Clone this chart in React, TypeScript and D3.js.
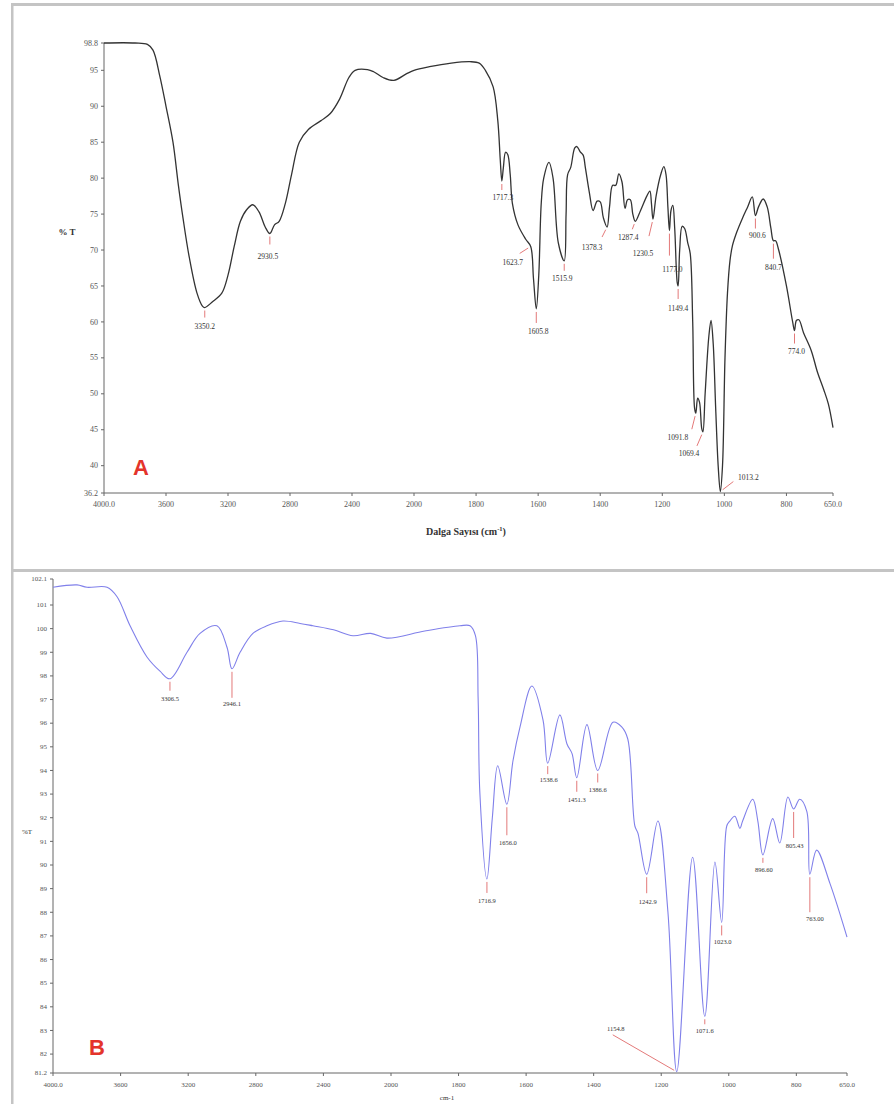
import React from 'react'
import * as d3 from 'd3'

// --- spectrum A (black, %T vs wavenumber) ---
const spectrumA: [number, number][] = [
  [4000, 98.8], [3800, 98.8], [3720, 98.6], [3684, 97.8], [3640, 94.2], [3600, 90.0], [3555, 85.0],
  [3520, 79.0], [3490, 74.4], [3450, 69.0], [3400, 64.0], [3365, 62.2], [3350, 62.0], [3300, 62.8],
  [3240, 64.0], [3200, 66.5], [3160, 70.5], [3120, 74.0], [3080, 75.6], [3040, 76.3], [3000, 75.3],
  [2960, 73.2], [2930, 72.3], [2900, 73.5], [2870, 74.0], [2830, 76.5], [2790, 80.5], [2740, 85.0],
  [2680, 86.8], [2600, 88.0], [2540, 89.0], [2480, 91.0], [2420, 94.0], [2380, 95.0], [2300, 95.1],
  [2260, 94.8], [2200, 94.0], [2130, 93.6], [2050, 94.5], [2000, 95.0], [1950, 95.5], [1880, 96.0],
  [1820, 96.2], [1790, 96.0], [1770, 95.0], [1745, 92.7], [1730, 88.0], [1722, 82.5], [1717, 79.6],
  [1712, 81.5], [1705, 83.6], [1698, 83.3], [1690, 80.5], [1683, 76.5], [1665, 73.5], [1640, 71.5],
  [1624, 70.5], [1615, 66.0], [1606, 61.8], [1598, 66.5], [1590, 76.5], [1582, 80.0], [1565, 82.2],
  [1552, 80.0], [1535, 71.0], [1516, 68.5], [1510, 75.0], [1505, 80.5], [1495, 81.5], [1482, 84.2],
  [1475, 84.4], [1465, 83.7], [1455, 83.2], [1448, 81.5], [1435, 78.0], [1423, 75.5], [1410, 76.8],
  [1400, 76.7], [1390, 74.5], [1378, 73.2], [1370, 76.0], [1360, 79.0], [1350, 79.0], [1340, 80.6],
  [1330, 79.5], [1320, 75.8], [1312, 77.0], [1303, 77.0], [1295, 75.0], [1287, 74.0], [1270, 75.5],
  [1250, 77.5], [1240, 78.2], [1235, 76.5], [1230, 74.3], [1220, 77.5], [1205, 80.5], [1195, 81.6],
  [1188, 80.5], [1182, 76.0], [1177, 72.7], [1172, 75.5], [1166, 76.2], [1160, 73.0], [1152, 65.5],
  [1149, 65.0], [1144, 70.0], [1136, 73.3], [1128, 73.0], [1118, 71.0], [1110, 69.5], [1102, 60.0],
  [1096, 48.0], [1092, 47.3], [1086, 49.4], [1080, 48.8], [1073, 45.2], [1069, 44.7], [1062, 50.0],
  [1050, 58.0], [1043, 60.2], [1036, 57.0], [1028, 48.0], [1020, 40.0], [1013, 36.4], [1006, 40.0],
  [998, 55.0], [990, 64.0], [982, 68.5], [974, 70.6], [960, 72.5], [942, 74.4], [925, 76.0],
  [910, 77.4], [900, 74.8], [890, 76.0], [875, 77.1], [862, 76.0], [850, 73.0], [842, 71.3],
  [835, 71.3], [825, 70.0], [800, 65.0], [780, 60.0], [774, 58.8], [768, 60.2], [760, 60.3],
  [745, 58.5], [720, 56.0], [700, 53.0], [680, 50.6], [665, 48.6], [650, 45.3],
]

const peaksA = [
  { text: '3350.2', wn: 3350, t: 62.0 }, { text: '2930.5', wn: 2930, t: 72.3 },
  { text: '1717.3', wn: 1717, t: 79.6 }, { text: '1623.7', wn: 1624, t: 70.5 },
  { text: '1605.8', wn: 1606, t: 61.8 }, { text: '1515.9', wn: 1516, t: 68.5 },
  { text: '1378.3', wn: 1378, t: 73.2 }, { text: '1287.4', wn: 1287, t: 74.0 },
  { text: '1230.5', wn: 1230, t: 74.3 }, { text: '1177.0', wn: 1177, t: 72.7 },
  { text: '1149.4', wn: 1149, t: 65.0 }, { text: '1091.8', wn: 1092, t: 47.3 },
  { text: '1069.4', wn: 1069, t: 44.7 }, { text: '1013.2', wn: 1013, t: 36.4 },
  { text: '900.6', wn: 900, t: 74.8 }, { text: '840.7', wn: 842, t: 71.3 },
  { text: '774.0', wn: 774, t: 58.8 },
]

// leader layout per label: [lineEndX, lineEndY, textX, textY] relative to the peak
const leadersA: Record<string, number[]> = {
  '3350.2': [0, 10, 0, 19], '2930.5': [0, 11, -2, 23], '1717.3': [0, 9, 1, 16],
  '1623.7': [-11, 7, -18, 16], '1605.8': [0, 14, 2, 22], '1515.9': [0, 10, -2, 18],
  '1378.3': [-5, 10, -15, 20], '1287.4': [-3, 8, -7, 16], '1230.5': [-4, 17, -10, 34],
  '1177.0': [0, 25, 3, 39], '1149.4': [0, 13, 0, 22], '1091.8': [-4, 16, -18, 24],
  '1069.4': [-6, 14, -14, 21], '1013.2': [13, -10, 28, -14], '900.6': [0, 13, 2, 20],
  '840.7': [0, 18, 0, 27], '774.0': [0, 13, 2, 21],
}

const yTicksA = [98.8, 95, 90, 85, 80, 75, 70, 65, 60, 55, 50, 45, 40, 36.2]
const yTickLabelsA = ['98.8', '95', '90', '85', '80', '75', '70', '65', '60', '55', '50', '45', '40', '36.2']

// --- spectrum B (blue) ---
const spectrumB: [number, number][] = [
  [4000, 101.75], [3858, 101.85], [3799, 101.75], [3680, 101.75], [3621, 101.35], [3544, 100.12],
  [3444, 98.8], [3367, 98.2], [3308, 97.88], [3207, 99.0], [3130, 99.8], [3030, 100.12],
  [2970, 99.2], [2941, 98.3], [2893, 99.0], [2817, 99.8], [2734, 100.12], [2639, 100.32],
  [2538, 100.22], [2462, 100.12], [2340, 99.95], [2225, 99.7], [2120, 99.8], [2024, 99.6],
  [1900, 99.9], [1796, 100.12], [1766, 100.12], [1750, 99.7], [1742, 97.0], [1737, 93.08],
  [1716, 89.41], [1700, 92.0], [1684, 94.2], [1657, 92.57], [1639, 94.4], [1618, 95.84],
  [1583, 97.57], [1550, 96.14], [1536, 94.31], [1500, 96.35], [1479, 95.12], [1464, 94.71],
  [1450, 93.69], [1420, 95.94], [1388, 94.0], [1343, 96.04], [1317, 95.84], [1299, 95.33],
  [1278, 91.65], [1269, 91.35], [1243, 89.61], [1210, 91.86], [1180, 87.98], [1154, 81.25],
  [1107, 90.33], [1071, 83.6], [1041, 90.12], [1021, 87.57], [1006, 91.65], [997, 91.86],
  [982, 92.06], [967, 91.55], [959, 91.86], [929, 92.78], [914, 91.86], [899, 90.43],
  [870, 91.96], [849, 90.93], [825, 92.88], [808, 92.37], [790, 92.78], [769, 92.27],
  [760, 89.61], [740, 90.63], [700, 89.2], [650, 86.95],
]

const peaksB = [
  { text: '3306.5', wn: 3308, t: 97.88 }, { text: '2946.1', wn: 2941, t: 98.3 },
  { text: '1716.9', wn: 1716, t: 89.41 }, { text: '1656.0', wn: 1657, t: 92.57 },
  { text: '1538.6', wn: 1536, t: 94.31 }, { text: '1451.3', wn: 1450, t: 93.69 },
  { text: '1386.6', wn: 1388, t: 94.0 }, { text: '1242.9', wn: 1243, t: 89.61 },
  { text: '1154.8', wn: 1154, t: 81.25 }, { text: '1071.6', wn: 1071, t: 83.6 },
  { text: '1023.0', wn: 1021, t: 87.57 }, { text: '896.60', wn: 899, t: 90.43 },
  { text: '805.43', wn: 808, t: 92.37 }, { text: '763.00', wn: 760, t: 89.61 },
]

const leadersB: Record<string, number[]> = {
  '3306.5': [0, 12, 0, 20], '2946.1': [0, 29, 0, 35], '1716.9': [0, 14, 0, 22],
  '1656.0': [0, 31, 1, 38], '1538.6': [0, 11, 1, 17], '1451.3': [0, 14, 0, 22],
  '1386.6': [0, 12, 0, 19], '1242.9': [0, 19, 1, 28], '1154.8': [-64, -37, -61, -43],
  '1071.6': [0, 8, 0, 14], '1023.0': [0, 13, 1, 19], '896.60': [0, 8, 1, 15],
  '805.43': [0, 29, 1, 37], '763.00': [0, 38, 5, 45],
}

const yTicksB = [102.1, 101, 100, 99, 98, 97, 96, 95, 94, 93, 92, 91, 90, 89, 88, 87, 86, 85, 84, 83, 82, 81.2]
const yTickLabelsB = ['102.1', '101', '100', '99', '98', '97', '96', '95', '94', '93', '92', '91', '90', '89', '88', '87', '86', '85', '84', '83', '82', '81.2']

const xTicks = [4000, 3600, 3200, 2800, 2400, 2000, 1800, 1600, 1400, 1200, 1000, 800, 650]
const xTickLabels = ['4000.0', '3600', '3200', '2800', '2400', '2000', '1800', '1600', '1400', '1200', '1000', '800', '650.0']

const SERIF = '"Liberation Serif", "Times New Roman", serif'

function Spectrum(props: any) {
  const { x, y, data, peaks, leaders, color, strokeWidth, yTicks, yLabels, fs, labelFs } = props
  const [x0, x1] = [x(4000), x(650)]
  const [yTop, yBot] = [y(yTicks[0]), y(yTicks[yTicks.length - 1])]
  const line = d3.line<[number, number]>()
    .x(d => x(d[0]))
    .y(d => y(d[1]))
    .curve(d3.curveCatmullRom.alpha(0.5))
  return (
    <g>
      {/* axes */}
      <line x1={x0} x2={x0} y1={yTop} y2={yBot} stroke="#666" strokeWidth={1} />
      <line x1={x0} x2={x1} y1={yBot} y2={yBot} stroke="#666" strokeWidth={1} />
      {yTicks.map((v: number, i: number) => (
        <g key={'y' + i}>
          <line x1={x0 - 3} x2={x0} y1={y(v)} y2={y(v)} stroke="#666" />
          <text x={x0 - 6} y={y(v)} dy="0.33em" textAnchor="end" fontSize={fs} fill="#555" fontFamily={SERIF}>{yLabels[i]}</text>
        </g>
      ))}
      {xTicks.map((v, i) => (
        <g key={'x' + i}>
          <line x1={x(v)} x2={x(v)} y1={yBot} y2={yBot + 3} stroke="#666" />
          <text x={x(v)} y={yBot + 14} textAnchor="middle" fontSize={fs} fill="#555" fontFamily={SERIF}>{xTickLabels[i]}</text>
        </g>
      ))}
      <path d={line(data) || ''} fill="none" stroke={color} strokeWidth={strokeWidth} strokeLinejoin="round" />
      {peaks.map((p: any) => {
        const px = x(p.wn), py = y(p.t)
        const [ex, ey, dx, dy] = leaders[p.text]
        const len = Math.hypot(ex, ey)
        const sx = px + (ex / len) * 3, sy = py + (ey / len) * 3
        return (
          <g key={p.text}>
            <line x1={sx} y1={sy} x2={px + ex} y2={py + ey} stroke="#e06a6a" strokeWidth={0.9} />
            <text x={px + dx} y={py + dy} dy="0.35em" textAnchor="middle" fontSize={labelFs} fill="#333" fontFamily={SERIF}>{p.text}</text>
          </g>
        )
      })}
    </g>
  )
}

export default function App() {
  const xA = d3.scaleLinear().domain([4000, 2000, 650]).range([104, 414, 833])
  const yA = d3.scaleLinear().domain([36.2, 98.8]).range([493, 43])
  const xB = d3.scaleLinear().domain([4000, 2000, 650]).range([53, 391, 847])
  const yB = d3.scaleLinear().domain([81.2, 102.1]).range([1073, 579])

  return (
    <svg width={894} height={1104} style={{ position: 'absolute', left: 0, top: 0 }}>
      <rect width={894} height={1104} fill="#fff" />
      {/* panel frames */}
      <rect x={11} y={3} width={883} height={3} fill="#c4c4c4" />
      <rect x={11} y={569} width={883} height={3} fill="#c4c4c4" />
      <rect x={11} y={3} width={2.5} height={1101} fill="#c4c4c4" />

      <Spectrum x={xA} y={yA} data={spectrumA} peaks={peaksA} leaders={leadersA}
        color="#333" strokeWidth={1.3} yTicks={yTicksA} yLabels={yTickLabelsA} fs={8} labelFs={7.5} />
      <text x={67} y={232} dy="0.35em" textAnchor="middle" fontSize={9} fontWeight="bold" fill="#333" fontFamily={SERIF}>% T</text>
      <text x={466} y={535} textAnchor="middle" fontSize={10} fontWeight="bold" fill="#333" fontFamily={SERIF}>
        Dalga Sayısı (cm<tspan fontSize={6.5} dy={-4}>-1</tspan><tspan dy={4}>)</tspan>
      </text>
      <text x={141} y={475} textAnchor="middle" fontSize={22} fontWeight="bold" fill="#e4342b" fontFamily='"Liberation Sans", Arial, sans-serif'>A</text>

      <Spectrum x={xB} y={yB} data={spectrumB} peaks={peaksB} leaders={leadersB}
        color="#8080ea" strokeWidth={1.1} yTicks={yTicksB} yLabels={yTickLabelsB} fs={7} labelFs={6.5} />
      <text x={27} y={832} dy="0.35em" textAnchor="middle" fontSize={7} fill="#333" fontFamily={SERIF}>%T</text>
      <text x={447} y={1100} textAnchor="middle" fontSize={7} fill="#333" fontFamily={SERIF}>cm-1</text>
      <text x={97} y={1055} textAnchor="middle" fontSize={22} fontWeight="bold" fill="#e4342b" fontFamily='"Liberation Sans", Arial, sans-serif'>B</text>
    </svg>
  )
}
